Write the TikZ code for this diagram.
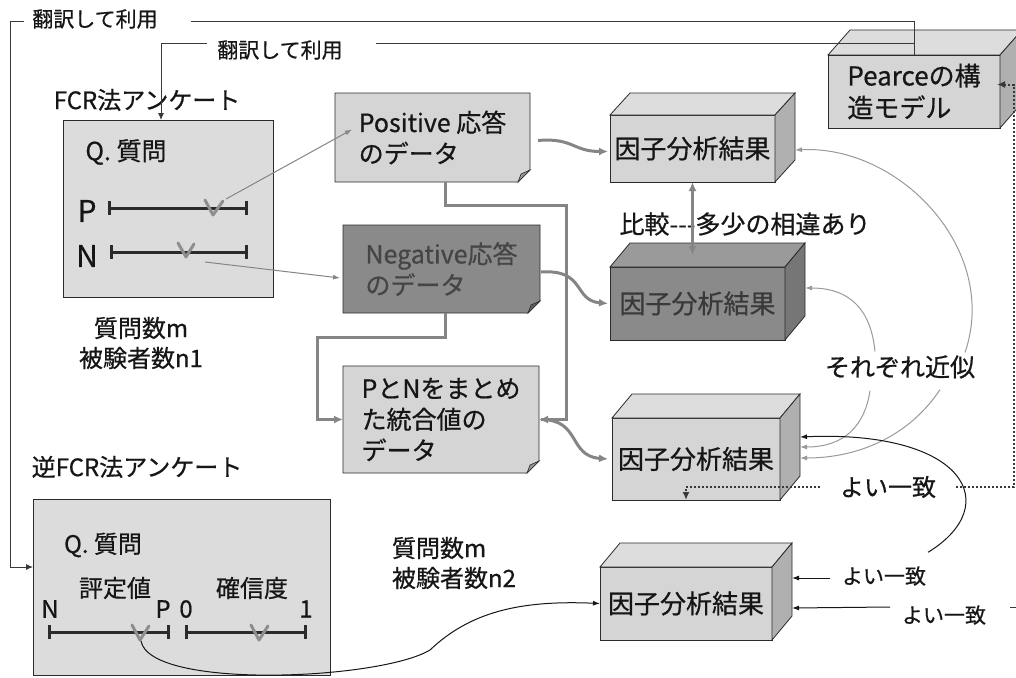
\documentclass[tikz,border=0pt]{standalone}
\usepackage{fontspec}
\setmainfont{Noto Sans CJK JP}[FakeBold=0.6]
\usetikzlibrary{arrows.meta,calc}
\pgfdeclarelayer{bg}
\pgfsetlayers{bg,main}
\definecolor{edgec}{HTML}{2B2B2B}
\definecolor{panelc}{HTML}{DCDCDC}
\definecolor{lightc}{HTML}{D5D5D5}
\definecolor{lighttop}{HTML}{DDDDDD}
\definecolor{lightside}{HTML}{B0B0B0}
\definecolor{darkc}{HTML}{8A8A8A}
\definecolor{darktop}{HTML}{9A9A9A}
\definecolor{darkside}{HTML}{767676}
\definecolor{flowc}{HTML}{858585}
\definecolor{approxc}{HTML}{9A9A9A}
\definecolor{checkc}{HTML}{8E8E8E}
\definecolor{inkc}{HTML}{161616}
\newcommand\notebg[2]{%
 \begin{pgfonlayer}{bg}
 \path[draw=edgec,line width=0.8pt,fill=#2] (#1.north west) -- (#1.north east) -- ($(#1.south east)+(0,-12)$) -- ($(#1.south east)+(-12,0)$) -- (#1.south west) -- cycle;
 \path[draw=edgec,line width=0.6pt,fill=#2!70!black] ($(#1.south east)+(0,-12)$) -- ($(#1.south east)+(-12,0)$) -- ($(#1.south east)+(-9,-8)$) -- cycle;
 \end{pgfonlayer}}
\newcommand\cubesides[5]{%
 \path[draw=edgec,line width=0.8pt,fill=#2] (#1.north west) -- ++(#4,#5) -- ($(#1.north east)+(#4,#5)$) -- (#1.north east) -- cycle;
 \path[draw=edgec,line width=0.8pt,fill=#3] (#1.north east) -- ++(#4,#5) -- ($(#1.south east)+(#4,#5)$) -- (#1.south east) -- cycle;}
\begin{document}
\begin{tikzpicture}[x=1pt,y=-1pt,
 txt/.style={inner sep=0pt, outer sep=0pt, text=inkc},
 f21/.style={font=\fontsize{21}{25}\selectfont},
 f24/.style={font=\fontsize{24}{30}\selectfont},
 f25/.style={font=\fontsize{25}{31}\selectfont},
 f30/.style={font=\fontsize{30}{36}\selectfont},
 panel/.style={draw=edgec, line width=0.8pt, fill=panelc, inner sep=0pt, outer sep=0pt},
 notebox/.style={inner sep=0pt, outer sep=0pt, align=left, text=inkc, font=\fontsize{25}{31}\selectfont},
 cube/.style={draw=edgec, line width=0.8pt, inner sep=0pt, outer sep=0pt, font=\fontsize{26}{32}\selectfont, text=inkc},
 linkline/.style={draw=inkc!85, line width=0.9pt},
 linkarrow/.style={linkline, -{Latex[length=7pt,width=6pt]}},
 flow/.style={draw=flowc, line width=3pt, -{Latex[length=9pt,width=8pt]}},
 flowboth/.style={draw=flowc, line width=3pt, {Latex[length=9pt,width=8pt]}-{Latex[length=9pt,width=8pt]}},
 pointer/.style={draw=flowc, line width=1pt, -{Latex[length=7pt,width=5pt]}},
 approx/.style={draw=approxc, line width=1pt, -{Latex[length=7pt,width=5pt]}},
 agree/.style={draw=inkc, line width=1pt, -{Latex[length=7pt,width=5pt]}},
 dotline/.style={draw=inkc!85, line width=2pt, dash pattern=on 2pt off 2pt},
 scalebar/.style={draw=edgec, line width=3pt, {Bar[width=14pt]}-{Bar[width=14pt]}},
 checkmark/.style={draw=checkc, line width=3pt, line join=round, line cap=round}
]
\begin{pgfonlayer}{bg}
\fill[white] (0,0) rectangle (1016,677);
\end{pgfonlayer}
\useasboundingbox (0,0) rectangle (1016,677);

% FCR questionnaire
\node[panel, minimum width=210pt, minimum height=177pt] (fcr) at (168,208.5) {};
\node[txt,f24] (fcrtitle) at (147,100) {FCR法アンケート};
\node[txt,f25] (fcrq) at (126,152) {Q. 質問};
\node[txt,f30] (fcrp) at (87,211) {P};
\node[txt,f30] (fcrn) at (87,256) {N};
\draw[scalebar] (108,208) -- (248,208);
\draw[scalebar] (110,252) -- (248,252);
\draw[checkmark] (205,200) -- (213,215) -- (223,201);
\draw[checkmark] (178,243) -- (186,257) -- (194,244);
\coordinate (vP) at (226,199);
\coordinate (vN) at (205,262);
\node[txt,f24,align=center] (fcrinfo) at (141,343) {質問数m\\被験者数n1};

% data notes
\node[notebox, minimum width=195pt, minimum height=89pt] (pos) at (432.5,137.5) {Positive 応答\\のデータ};
\notebg{pos}{lightc}
\node[notebox, minimum width=197pt, minimum height=88pt, text=inkc!80] (neg) at (441.5,269) {Negative応答\\のデータ};
\notebg{neg}{darkc}
\node[notebox, minimum width=196pt, minimum height=107pt] (comb) at (441,419.5) {PとNをまとめ\\た統合値の\\データ};
\notebg{comb}{lightc}

% cubes
\node[cube, fill=lightc, minimum width=165pt, minimum height=67pt] (fa1) at (692.5,148.5) {因子分析結果};
\cubesides{fa1}{lighttop}{lightside}{20}{-22}
\node[cube, fill=darkc, minimum width=175pt, minimum height=73pt, text=inkc!85] (fa2) at (697.5,303.5) {因子分析結果};
\cubesides{fa2}{darktop}{darkside}{20}{-24}
\node[cube, fill=lightc, minimum width=168pt, minimum height=82pt] (fa3) at (696,459) {因子分析結果};
\cubesides{fa3}{lighttop}{lightside}{20}{-24}
\node[cube, fill=lightc, minimum width=172pt, minimum height=73pt] (fa4) at (686,603.5) {因子分析結果};
\cubesides{fa4}{lighttop}{lightside}{20}{-24}
\node[cube, fill=lightc, minimum width=172pt, minimum height=73pt, align=left] (pearce) at (914,91.5) {Pearceの構\\造モデル};
\cubesides{pearce}{lighttop}{lightside}{22}{-25}

% inverse FCR questionnaire
\node[panel, minimum width=297pt, minimum height=176pt] (inv) at (181.5,587) {};
\node[txt,f24] (invtitle) at (137,467) {逆FCR法アンケート};
\node[txt,f24] (invq) at (103,545) {Q. 質問};
\node[txt,f24] (rate) at (115,588) {評定値};
\node[txt,f24] (conf) at (252,588) {確信度};
\node[txt,f24] (invn) at (50,609) {N};
\node[txt,f24] (invp) at (163,609) {P};
\node[txt,f24] (invzero) at (186,609) {0};
\node[txt,f24] (invone) at (306,609) {1};
\draw[scalebar] (48,632) -- (170,632);
\draw[scalebar] (185,632) -- (307,632);
\draw[checkmark] (132,625) -- (140,640) -- (149,626);
\draw[checkmark] (251,625) -- (259,640) -- (268,626);
\coordinate (vR) at (141,641);
\node[txt,f24,align=left,anchor=west] (invinfo) at (392,563) {質問数m\\被験者数n2};

% labels
\node[txt,f21] (lbla) at (95,19) {翻訳して利用};
\node[txt,f21] (lblb) at (280,50) {翻訳して利用};
\node[txt,f25] (cmp) at (745,224) {比較-{}-{}-多少の相違あり};
\node[txt,f25] (approxlbl) at (900,367) {それぞれ近似};
\node[txt,f24] (agreea) at (888,487) {よい一致};
\node[txt,f21] (agreeb) at (884,576) {よい一致};
\node[txt,f21] (agreec) at (944,615) {よい一致};

% translation lines
\coordinate (cornera) at (10,21);
\coordinate (pb) at ($(pearce.north)+(0,-12)$);
\draw[linkline] (pearce.north) |- ($(lbla.east)+(33,2)$);
\draw[linkarrow] ($(lbla.west)+(-8,2)$) -- (cornera) |- ($(inv.west)+(0,-20)$);
\draw[linkline] (pb) -- ($(lblb.east)+(33,-7)$);
\draw[linkarrow] ($(lblb.west)+(-10,-7)$) -| ($(fcr.north)+(-7,0)$);

% pointers from checks
\draw[pointer] (vP) -- ($(pos.west)+(17,-8)$);
\draw[pointer] (vN) -- ($(neg.west)+(-3,9)$);

% data flows
\draw[flow] ($(pos.east)+(8,3)$) .. controls +(35,-3) and +(-35,0) .. ($(fa1.west)+(-2,3)$);
\draw[flow] ($(neg.east)+(1,3)$) .. controls +(45,-3) and +(-35,-3) .. ($(fa2.west)+(-2,0)$);
\draw[flow] ($(comb.east)+(2,0)$) .. controls +(40,0) and +(-40,-3) .. ($(fa3.west)+(-4,0)$);
\draw[flow] ($(pos.south)+(13,0)$) -- ++(0,23) -| ($(comb.east)+(27,0)$) -- (comb.east);
\draw[flow] ($(neg.south)+(4,0)$) -- ++(0,24) -| ($(comb.west)+(-26,0)$) -- (comb.west);
\draw[flowboth] (fa1.south) -- ($(fa1.south |- fa2.north)+(0,-12)$);

% approximations
\draw[approx] ($(approxlbl.north east)+(-10,-3)$) .. controls (1000,250) and (900,145) .. ($(fa1.north east)+(20,35)$);
\draw[approx] ($(approxlbl.north west)+(50,-4)$) .. controls (870,300) and (840,288) .. ($(fa2.north east)+(20,21)$);
\draw[approx] ($(approxlbl.south west)+(45,12)$) .. controls (865,425) and (845,447) .. ($(fa3.north east)+(20,29)$);
\draw[approx] ($(approxlbl.south east)+(-35,11)$) .. controls (910,435) and (860,458) .. ($(fa3.north east)+(20,40)$);

% agreements
\draw[agree] ($(agreeb.north east)+(2,-14)$) .. controls (1005,505) and (965,430) .. ($(fa3.north east)+(20,19)$);
\draw[agree] ($(agreeb.west)+(-12,2)$) -- ($(fa4.north east)+(20,11)$);
\draw[agree] ($(agreec.west)+(-12,-8)$) -- ($(fa4.north east)+(20,41)$);
\draw[linkline] ($(agreec.east)+(24,-8)$) -- ++(10,0);
\draw[agree] (vR) .. controls (150,690) and (380,680) .. (430,650) .. controls (470,612) and (520,600) .. (fa4.west);

% dotted agreement with Pearce
\draw[dotline, {Latex[length=8pt,width=7pt]}-] ($(pearce.east)+(-3,-7)$) -- ++(17,0) |- ($(agreea.east)+(20,0)$);
\draw[dotline, -{Latex[length=8pt,width=7pt]}] ($(agreea.west)+(-20,0)$) -| ($(fa3.south)+(-10,0)$);
\end{tikzpicture}
\end{document}
